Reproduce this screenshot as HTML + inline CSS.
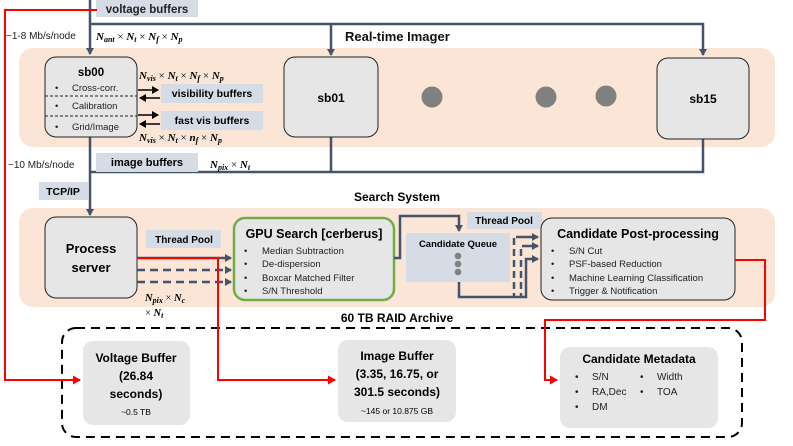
<!DOCTYPE html>
<html><head><meta charset="utf-8"><style>
html,body{margin:0;padding:0;background:#fff}
svg{display:block}
text{font-family:"Liberation Sans",sans-serif}
.b{font-weight:bold}
.m{font-family:"Liberation Serif",serif;font-weight:bold;font-style:italic}
</style></head><body>
<svg width="793" height="446" viewBox="0 0 793 446" xmlns="http://www.w3.org/2000/svg">
<defs>
<marker id="ad" markerWidth="8" markerHeight="8" refX="6" refY="4" orient="auto" markerUnits="userSpaceOnUse"><path d="M0,0 L7,4 L0,8 z" fill="#44546a"/></marker>
<marker id="ak" markerWidth="8" markerHeight="8" refX="6" refY="4" orient="auto" markerUnits="userSpaceOnUse"><path d="M0,0 L7,4 L0,8 z" fill="#000"/></marker>
<marker id="ar" markerWidth="9" markerHeight="9" refX="7" refY="4.5" orient="auto" markerUnits="userSpaceOnUse"><path d="M0,0 L8,4.5 L0,9 z" fill="#f00"/></marker>
</defs>
<rect x="19" y="48" width="756" height="99" rx="14" fill="#fbe5d6"/>
<rect x="19" y="208" width="756" height="99" rx="14" fill="#fbe5d6"/>
<g stroke="#44546a" stroke-width="2.5" fill="none">
<line x1="90" y1="0" x2="90" y2="54" marker-end="url(#ad)"/>
<polyline points="90,24 703,24 703,55" marker-end="url(#ad)"/>
<line x1="331" y1="24" x2="331" y2="55" marker-end="url(#ad)"/>
<line x1="90" y1="137" x2="90" y2="215" marker-end="url(#ad)"/>
<polyline points="90,172 703,172 703,139"/>
<line x1="331" y1="137" x2="331" y2="172"/>
</g>
<rect x="96" y="0" width="102" height="17" fill="#d6dce5"/>
<text x="147" y="13" text-anchor="middle" font-size="11.5" class="b" fill="#222">voltage buffers</text>
<text x="6" y="39" font-size="10" fill="#222">~1-8 Mb/s/node</text>
<text x="96" y="40" font-size="11" class="m">N<tspan font-size="8" dy="2">ant</tspan><tspan dy="-2" font-style="normal" font-weight="normal"> × </tspan>N<tspan font-size="8" dy="2">t</tspan><tspan dy="-2" font-style="normal" font-weight="normal"> × </tspan>N<tspan font-size="8" dy="2">f</tspan><tspan dy="-2" font-style="normal" font-weight="normal"> × </tspan>N<tspan font-size="8" dy="2">p</tspan></text>
<text x="345" y="41" font-size="13" class="b" fill="#111">Real-time Imager</text>
<rect x="45" y="57" width="92" height="80" rx="11" fill="#e7e6e6" stroke="#222" stroke-width="1"/>
<text x="91" y="76" text-anchor="middle" font-size="11.5" class="b">sb00</text>
<g font-size="9.5" fill="#222"><text x="55" y="91">•</text><text x="72" y="91">Cross-corr.</text>
<text x="55" y="109">•</text><text x="72" y="109">Calibration</text>
<text x="55" y="130">•</text><text x="72" y="130">Grid/Image</text></g>
<line x1="45" y1="96" x2="137" y2="96" stroke="#222" stroke-dasharray="3,2"/>
<line x1="45" y1="116" x2="137" y2="116" stroke="#222" stroke-dasharray="3,2"/>
<rect x="284" y="57" width="94" height="80" rx="11" fill="#e7e6e6" stroke="#222"/>
<text x="331" y="102" text-anchor="middle" font-size="12" class="b">sb01</text>
<rect x="657" y="58" width="92" height="81" rx="11" fill="#e7e6e6" stroke="#222"/>
<text x="703" y="103" text-anchor="middle" font-size="12" class="b">sb15</text>
<circle cx="432" cy="97" r="10.5" fill="#808080"/>
<circle cx="546" cy="97" r="10.5" fill="#808080"/>
<circle cx="606" cy="96" r="10.5" fill="#808080"/>
<text x="139" y="79" font-size="11" class="m">N<tspan font-size="8" dy="2">vis</tspan><tspan dy="-2" font-style="normal" font-weight="normal"> × </tspan>N<tspan font-size="8" dy="2">t</tspan><tspan dy="-2" font-style="normal" font-weight="normal"> × </tspan>N<tspan font-size="8" dy="2">f</tspan><tspan dy="-2" font-style="normal" font-weight="normal"> × </tspan>N<tspan font-size="8" dy="2">p</tspan></text>
<text x="139" y="141" font-size="11" class="m">N<tspan font-size="8" dy="2">vis</tspan><tspan dy="-2" font-style="normal" font-weight="normal"> × </tspan>N<tspan font-size="8" dy="2">t</tspan><tspan dy="-2" font-style="normal" font-weight="normal"> × </tspan>n<tspan font-size="8" dy="2">f</tspan><tspan dy="-2" font-style="normal" font-weight="normal"> × </tspan>N<tspan font-size="8" dy="2">p</tspan></text>
<rect x="161" y="84" width="102" height="19" fill="#d6dce5"/>
<text x="212" y="97" text-anchor="middle" font-size="10.5" class="b">visibility buffers</text>
<rect x="161" y="111" width="102" height="19" fill="#d6dce5"/>
<text x="212" y="124" text-anchor="middle" font-size="10.5" class="b">fast vis buffers</text>
<g stroke="#000" stroke-width="1.5">
<line x1="138" y1="90" x2="158" y2="90" marker-end="url(#ak)"/>
<line x1="160" y1="98" x2="140" y2="98" marker-end="url(#ak)"/>
<line x1="138" y1="115" x2="158" y2="115" marker-end="url(#ak)"/>
<line x1="160" y1="124" x2="140" y2="124" marker-end="url(#ak)"/>
</g>
<text x="8" y="168" font-size="10" fill="#222">~10 Mb/s/node</text>
<rect x="96" y="153" width="102" height="19" fill="#d6dce5"/>
<text x="147" y="166" text-anchor="middle" font-size="11" class="b">image buffers</text>
<text x="210" y="168" font-size="11" class="m">N<tspan font-size="8" dy="2">pix</tspan><tspan dy="-2" font-style="normal" font-weight="normal"> × </tspan>N<tspan font-size="8" dy="2">t</tspan></text>
<rect x="39" y="182" width="49" height="18" fill="#d6dce5"/>
<text x="63" y="195" text-anchor="middle" font-size="10.5" class="b">TCP/IP</text>
<text x="397" y="201" text-anchor="middle" font-size="12" class="b">Search System</text>
<rect x="45" y="217" width="92" height="81" rx="11" fill="#e7e6e6" stroke="#222"/>
<text x="91" y="253" text-anchor="middle" font-size="13" class="b">Process</text>
<text x="91" y="272" text-anchor="middle" font-size="13" class="b">server</text>
<rect x="146" y="230" width="75" height="18" fill="#d6dce5"/>
<text x="184" y="243" text-anchor="middle" font-size="10" class="b">Thread Pool</text>
<g stroke="#44546a" stroke-width="2.5" fill="none">
<line x1="137" y1="258" x2="231" y2="258" marker-end="url(#ad)"/>
<line x1="137" y1="270" x2="231" y2="270" stroke-dasharray="8,5" marker-end="url(#ad)"/>
<line x1="137" y1="282" x2="231" y2="282" stroke-dasharray="8,5" marker-end="url(#ad)"/>
</g>
<text x="145" y="301" font-size="10.5" class="m">N<tspan font-size="8" dy="2">pix</tspan><tspan dy="-2" font-style="normal" font-weight="normal"> × </tspan>N<tspan font-size="8" dy="2">c</tspan></text>
<text x="145" y="316" font-size="10.5" class="m"><tspan font-style="normal" font-weight="normal">× </tspan>N<tspan font-size="8" dy="2">t</tspan></text>
<rect x="234" y="218" width="160" height="82" rx="11" fill="#e7e6e6" stroke="#70ad47" stroke-width="2.5"/>
<text x="314" y="238" text-anchor="middle" font-size="12.5" class="b">GPU Search [cerberus]</text>
<g font-size="9.5" fill="#222"><text x="244" y="254">•</text><text x="262" y="254">Median Subtraction</text>
<text x="244" y="267">•</text><text x="262" y="267">De-dispersion</text>
<text x="244" y="281">•</text><text x="262" y="281">Boxcar Matched Filter</text>
<text x="244" y="294">•</text><text x="262" y="294">S/N Threshold</text></g>
<rect x="406" y="233" width="104" height="49" fill="#d6dce5"/>
<text x="458" y="247" text-anchor="middle" font-size="9.5" class="b">Candidate Queue</text>
<circle cx="458" cy="256" r="3.3" fill="#808080"/><circle cx="458" cy="264" r="3.3" fill="#808080"/><circle cx="458" cy="272" r="3.3" fill="#808080"/>
<rect x="467" y="212" width="75" height="17" fill="#d6dce5"/>
<text x="504" y="224" text-anchor="middle" font-size="10" class="b">Thread Pool</text>
<g stroke="#44546a" stroke-width="2.5" fill="none">
<polyline points="394,258 400,258 400,216 459,216 459,231" marker-end="url(#ad)"/>
<polyline points="459,282 459,297 526,297 526,259 538,259" marker-end="url(#ad)"/>
<line x1="514" y1="238" x2="514" y2="297" stroke-dasharray="7,4"/>
<line x1="521" y1="249" x2="521" y2="297" stroke-dasharray="7,4"/>
<line x1="516" y1="237" x2="538" y2="237" marker-end="url(#ad)"/>
<line x1="522" y1="246" x2="538" y2="246" marker-end="url(#ad)"/>
</g>
<rect x="541" y="218" width="194" height="82" rx="11" fill="#e7e6e6" stroke="#222"/>
<text x="638" y="238" text-anchor="middle" font-size="12.5" class="b">Candidate Post-processing</text>
<g font-size="9.5" fill="#222"><text x="551" y="254">•</text><text x="569" y="254">S/N Cut</text>
<text x="551" y="267">•</text><text x="569" y="267">PSF-based Reduction</text>
<text x="551" y="281">•</text><text x="569" y="281">Machine Learning Classification</text>
<text x="551" y="294">•</text><text x="569" y="294">Trigger &amp; Notification</text></g>
<text x="397" y="322" text-anchor="middle" font-size="12" class="b">60 TB RAID Archive</text>
<rect x="62" y="328" width="680" height="109" rx="14" fill="none" stroke="#000" stroke-width="2" stroke-dasharray="9,6"/>
<rect x="83" y="341" width="107" height="84" rx="10" fill="#e7e6e6"/>
<g text-anchor="middle" class="b" font-size="12"><text x="136" y="362">Voltage Buffer</text><text x="136" y="380">(26.84</text><text x="136" y="398">seconds)</text></g>
<text x="136" y="415" text-anchor="middle" font-size="8.5">~0.5 TB</text>
<rect x="338" y="340" width="118" height="82" rx="10" fill="#e7e6e6"/>
<g text-anchor="middle" class="b" font-size="12"><text x="397" y="360">Image Buffer</text><text x="397" y="378">(3.35, 16.75, or</text><text x="397" y="396">301.5 seconds)</text></g>
<text x="397" y="414" text-anchor="middle" font-size="8.5">~145 or 10.875 GB</text>
<rect x="560" y="347" width="158" height="81" rx="10" fill="#e7e6e6"/>
<text x="639" y="363" text-anchor="middle" font-size="12" class="b">Candidate Metadata</text>
<g font-size="10" fill="#222"><text x="575" y="380">•</text><text x="592" y="380">S/N</text><text x="640" y="380">•</text><text x="657" y="380">Width</text>
<text x="575" y="395">•</text><text x="592" y="395">RA,Dec</text><text x="640" y="395">•</text><text x="657" y="395">TOA</text>
<text x="575" y="410">•</text><text x="592" y="410">DM</text></g>
<g stroke="#f00" stroke-width="2" fill="none">
<polyline points="97,10 5,10 5,380 80,380" marker-end="url(#ar)"/>
<polyline points="137,258 218,258 218,380 335,380" marker-end="url(#ar)"/>
<polyline points="735,260 765,260 765,320 545,320 545,380 557,380" marker-end="url(#ar)"/>
</g>
</svg>
</body></html>
